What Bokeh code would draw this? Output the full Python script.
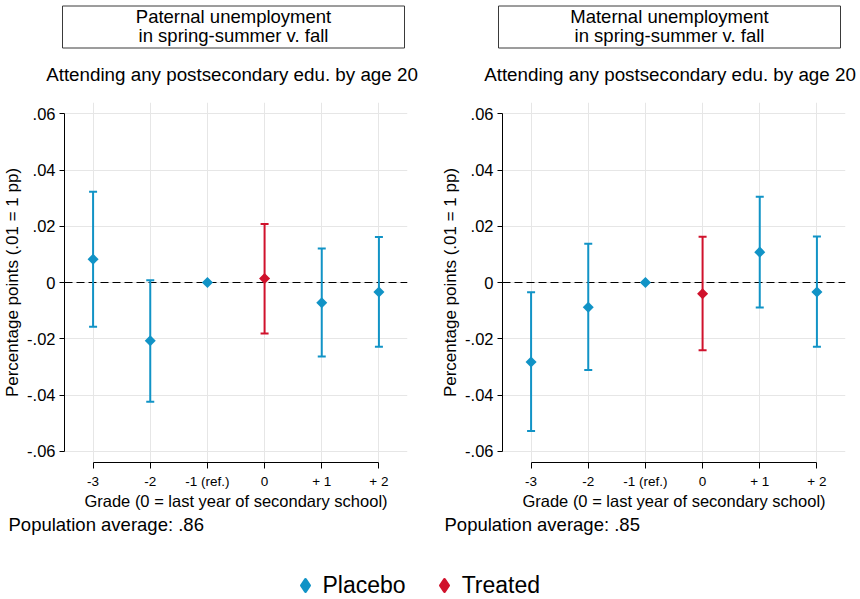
import math
from bokeh.plotting import figure
from bokeh.models import (ColumnDataSource, Range1d, FixedTicker, Whisker, TeeHead,
                          Span, Label, Legend, LegendItem, BoxAnnotation)
from bokeh.layouts import row, column
from bokeh.embed import file_html
from bokeh.resources import INLINE

# ---------------- data ----------------
grades = [-3, -2, -1, 0, 1, 2]
grade_labels = ["-3", "-2", "-1 (ref.)", "0", "+ 1", "+ 2"]
groups = ["Placebo", "Placebo", "Placebo", "Treated", "Placebo", "Placebo"]

paternal_coef = [0.0083, -0.0207, 0.0, 0.0014, -0.0072, -0.0034]
paternal_lo = [-0.0157, -0.0424, None, -0.0181, -0.0263, -0.0228]
paternal_hi = [0.0323, 0.0008, None, 0.0208, 0.0121, 0.0162]

maternal_coef = [-0.0283, -0.0088, 0.0, -0.0040, 0.0108, -0.0034]
maternal_lo = [-0.0528, -0.0311, None, -0.0241, -0.0089, -0.0228]
maternal_hi = [-0.0035, 0.0138, None, 0.0163, 0.0305, 0.0164]

y_ticks = [-0.06, -0.04, -0.02, 0.0, 0.02, 0.04, 0.06]
y_tick_labels = ["-.06", "-.04", "-.02", "0", ".02", ".04", ".06"]

panel_titles = ["Paternal unemployment\nin spring-summer v. fall",
                "Maternal unemployment\nin spring-summer v. fall"]
subtitle = "Attending any postsecondary edu. by age 20"
x_title = "Grade (0 = last year of secondary school)"
y_title = "Percentage points (.01 = 1 pp)"
pop_avg_texts = ["Population average: .86", "Population average: .85"]
legend_labels = ["Placebo", "Treated"]

# ---------------- style ----------------
FONT = "Liberation Sans"
BLUE = "#1193c6"
RED = "#d0122c"
colors = {"Placebo": BLUE, "Treated": RED}
GRID = "#e6e6e6"

TOTAL_W = 860
TOP_H = 95
BOT_H = 85
FRAME_W = 343
FRAME_H = 360
LEFT_B = 62
P1_W = 436


def strip(height):
    s = figure(width=TOTAL_W, height=height, x_range=Range1d(0, 1),
               y_range=Range1d(0, 1), min_border=0, x_axis_location=None,
               y_axis_location=None, output_backend="svg",
               toolbar_location=None, tools="")
    s.grid.visible = False
    s.outline_line_color = None
    s.background_fill_color = "white"
    s.border_fill_color = "white"
    return s


def make_panel(coef, lo, hi, width):
    p = figure(width=width, frame_width=FRAME_W, frame_height=FRAME_H,
               min_border_left=LEFT_B, min_border_right=width - LEFT_B - FRAME_W,
               min_border_top=7, min_border_bottom=52,
               x_range=Range1d(-3.5, 2.5), y_range=Range1d(-0.064, 0.064),
               output_backend="svg", toolbar_location=None, tools="")
    p.outline_line_color = None
    p.background_fill_color = "white"
    p.border_fill_color = "white"

    xa = p.xaxis[0]
    xa.ticker = FixedTicker(ticks=grades)
    xa.major_label_overrides = {g: l for g, l in zip(grades, grade_labels)}
    xa.bounds = (-3, 2)
    xa.major_tick_out = 6
    xa.major_tick_in = 0
    xa.minor_tick_out = 0
    xa.minor_tick_in = 0
    xa.major_label_standoff = 5
    xa.major_label_text_font = FONT
    xa.major_label_text_font_size = "13.5px"
    xa.major_label_text_color = "black"
    xa.axis_line_color = "black"
    xa.major_tick_line_color = "black"
    xa.axis_label = x_title
    xa.axis_label_text_font = FONT
    xa.axis_label_text_font_size = "16.5px"
    xa.axis_label_text_font_style = "normal"
    xa.axis_label_text_color = "black"
    xa.axis_label_standoff = 0

    ya = p.yaxis[0]
    ya.ticker = FixedTicker(ticks=y_ticks)
    ya.major_label_overrides = {t: l for t, l in zip(y_ticks, y_tick_labels)}
    ya.bounds = (-0.06, 0.06)
    ya.major_tick_out = 5
    ya.major_tick_in = 0
    ya.minor_tick_out = 0
    ya.minor_tick_in = 0
    ya.major_label_standoff = 4
    ya.major_label_text_font = FONT
    ya.major_label_text_font_size = "16.5px"
    ya.major_label_text_color = "black"
    ya.axis_line_color = "black"
    ya.major_tick_line_color = "black"
    ya.axis_label = y_title
    ya.axis_label_text_font = FONT
    ya.axis_label_text_font_size = "17px"
    ya.axis_label_text_font_style = "normal"
    ya.axis_label_text_color = "black"
    ya.axis_label_standoff = 2

    p.xgrid[0].ticker = xa.ticker
    p.ygrid[0].ticker = ya.ticker
    p.grid.grid_line_color = GRID
    p.grid.grid_line_width = 1

    p.add_layout(Span(location=0, dimension="width", line_color="black",
                      line_width=1, line_dash="8 4", level="underlay"))

    for grp, color in colors.items():
        idx = [i for i, g in enumerate(groups) if g == grp]
        ci_idx = [i for i in idx if lo[i] is not None]
        wsrc = ColumnDataSource(dict(x=[grades[i] for i in ci_idx],
                                     lo=[lo[i] for i in ci_idx],
                                     hi=[hi[i] for i in ci_idx]))
        p.add_layout(Whisker(source=wsrc, base="x", lower="lo", upper="hi",
                             dimension="height", line_color=color, line_width=2,
                             upper_head=TeeHead(size=8, line_color=color, line_width=2),
                             lower_head=TeeHead(size=8, line_color=color, line_width=2),
                             level="underlay"))
        msrc = ColumnDataSource(dict(x=[grades[i] for i in idx],
                                     y=[coef[i] for i in idx]))
        p.scatter("x", "y", source=msrc, marker="square", size=7.8,
                  angle=math.pi / 4, fill_color=color, line_color=None)
    return p


p1 = make_panel(paternal_coef, paternal_lo, paternal_hi, P1_W)
p2 = make_panel(maternal_coef, maternal_lo, maternal_hi, TOTAL_W - P1_W)

# ---------------- top strip: boxed titles + subtitles ----------------
pt = strip(TOP_H)
frame_lefts = [LEFT_B, P1_W + LEFT_B]
sub_shift = [-1.5, 0.5]
for fl, title, sh in zip(frame_lefts, panel_titles, sub_shift):
    pt.add_layout(BoxAnnotation(left=fl, right=fl + FRAME_W - 1, top=TOP_H - 5.5,
                                bottom=TOP_H - 47.5, left_units="screen",
                                right_units="screen", top_units="screen",
                                bottom_units="screen", fill_alpha=0,
                                line_color="#3a3a3a", line_width=1, line_alpha=1))
    cx = fl + FRAME_W / 2 - 0.5
    for k, line in enumerate(title.split("\n")):
        pt.add_layout(Label(x=cx, y=TOP_H - 16.0 - 19.3 * k, x_units="screen",
                            y_units="screen", text=line, text_align="center",
                            text_baseline="alphabetic", text_font=FONT,
                            text_font_size="18.5px", text_color="black"))
    pt.add_layout(Label(x=cx + sh, y=TOP_H - 73.5, x_units="screen", y_units="screen",
                        text=subtitle, text_align="center", text_baseline="alphabetic",
                        text_font=FONT, text_font_size="18.8px", text_color="black"))

# ---------------- bottom strip: population averages + legend ----------------
pb = strip(BOT_H)
for fl, txt in zip(frame_lefts, pop_avg_texts):
    pb.add_layout(Label(x=fl - 54, y=BOT_H - 10, x_units="screen", y_units="screen",
                        text=txt, text_align="left", text_baseline="alphabetic",
                        text_font=FONT, text_font_size="18.5px", text_color="black"))

items = []
for lab in legend_labels:
    idx = [i for i, g in enumerate(groups) if g == lab]
    src = ColumnDataSource(dict(x=[grades[i] for i in idx],
                                y=[paternal_coef[i] for i in idx]))
    r = pb.scatter("x", "y", source=src, marker="diamond",
                   fill_color=colors[lab], line_color=colors[lab],
                   line_width=3, line_join="round", visible=False)
    items.append(LegendItem(label=lab, renderers=[r]))
leg = Legend(items=items, orientation="horizontal", location=(289.5, -1),
             label_text_font=FONT, label_text_font_size="23px",
             label_text_color="black",
             glyph_width=30, glyph_height=30, label_height=30,
             label_standoff=3, spacing=23, padding=0, margin=0,
             border_line_color=None, background_fill_alpha=0,
             inactive_fill_alpha=0)
pb.add_layout(leg)

layout = column(pt, row(p1, p2), pb)

open("out.html", "w").write(file_html(layout, INLINE))
